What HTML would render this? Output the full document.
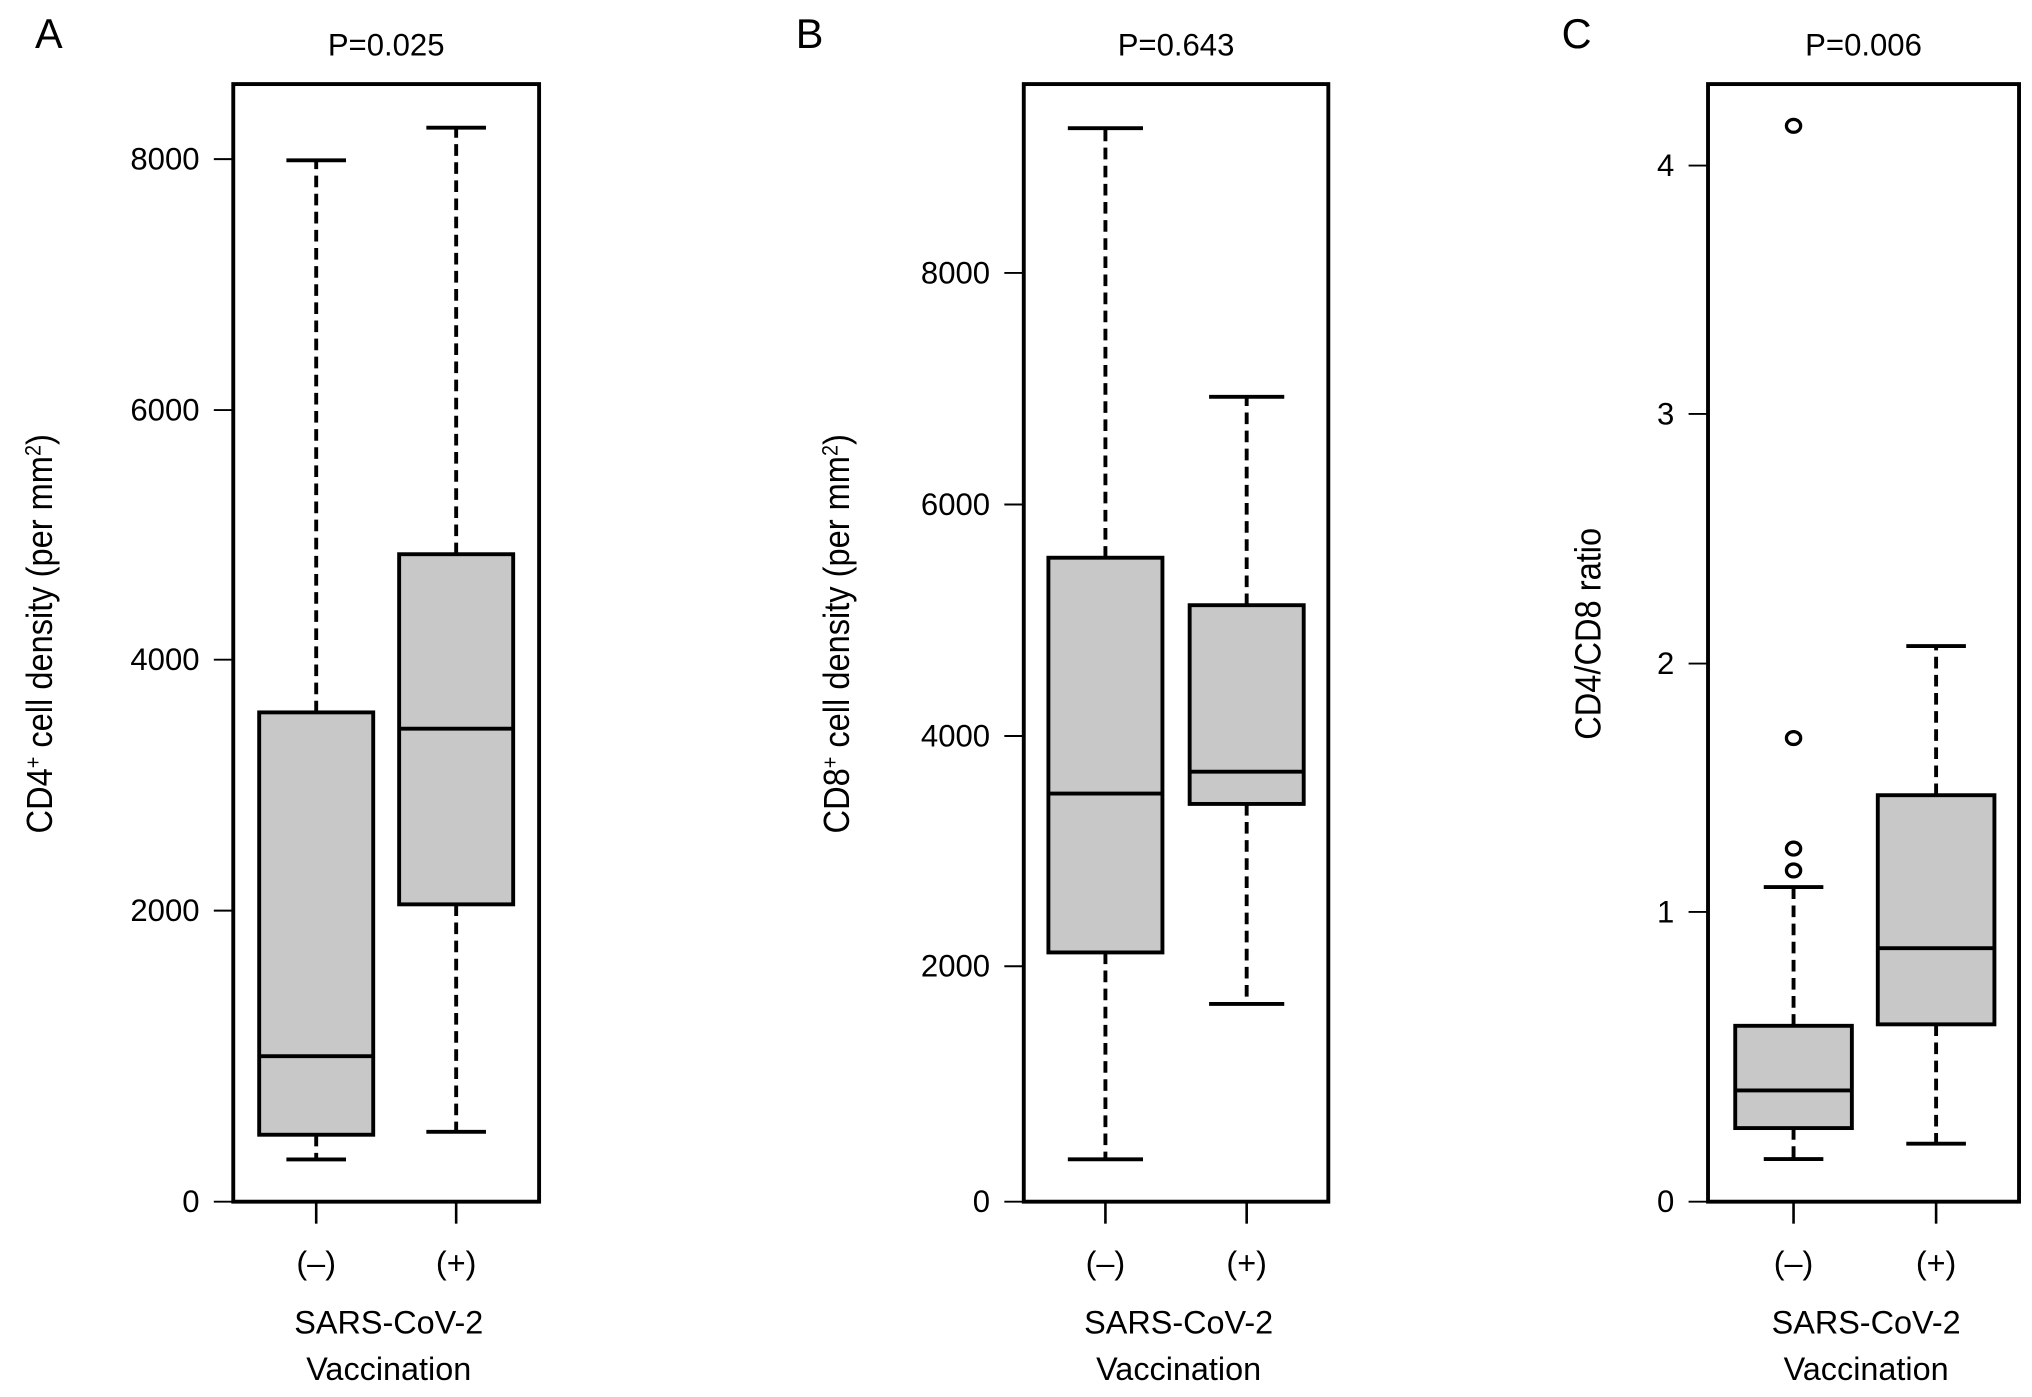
<!DOCTYPE html>
<html><head><meta charset="utf-8"><style>
html,body{margin:0;padding:0;background:#fff;}
svg{display:block;font-family:"Liberation Sans",Arial,sans-serif;}
</style></head><body>
<svg id="fig" width="2032" height="1397" viewBox="0 0 1568 1080" preserveAspectRatio="none" xmlns="http://www.w3.org/2000/svg"></svg>
<script>
// Panel A data (CD4+ density)
const groups = ["(\u2013)", "(+)"];
const aTicks = [0, 2000, 4000, 6000, 8000];
const aTickPx = [929, 704, 510, 317, 123]; // axis calibration
const aWhiskLo = [290, 480];
const aQ1 = [460, 2050];
const aMed = [1000, 3450];
const aQ3 = [3580, 4845];
const aWhiskHi = [7990, 8250];
const aOut = [[], []];
// Panel B data (CD8+ density)
const bTicks = [0, 2000, 4000, 6000, 8000];
const bTickPx = [929, 747, 569, 390, 211];
const bWhiskLo = [360, 1680];
const bQ1 = [2120, 3410];
const bMed = [3500, 3690];
const bQ3 = [5540, 5130];
const bWhiskHi = [9250, 6930];
const bOut = [[], []];
// Panel C data (CD4/CD8 ratio)
const cTicks = [0, 1, 2, 3, 4];
const cTickPx = [929, 705, 513, 320, 128];
const cWhiskLo = [0.147, 0.20];
const cQ1 = [0.254, 0.612];
const cMed = [0.384, 0.875];
const cQ3 = [0.607, 1.47];
const cWhiskHi = [1.10, 2.07];
const cOut = [[4.16, 1.70, 1.255, 1.167], []];

const NS = "http://www.w3.org/2000/svg";
const svg = document.getElementById('fig');
function mk(tag, attrs, parent, text){
  const e = document.createElementNS(NS, tag);
  for (const k in attrs) e.setAttribute(k, attrs[k]);
  if (text !== undefined) e.textContent = text;
  (parent || svg).appendChild(e);
  return e;
}
function scaleFn(ticks, px){
  return v => {
    for (let i = 0; i < ticks.length - 1; i++){
      if (v <= ticks[i+1] || i === ticks.length - 2){
        const t = (v - ticks[i]) / (ticks[i+1] - ticks[i]);
        return px[i] + t * (px[i+1] - px[i]);
      }
    }
  };
}
function panel(cfg){
  const g = mk('g', {});
  
  
  const y = scaleFn(cfg.ticks, cfg.tickPx);
  const L = cfg.left, R = cfg.right, T = 65, B = 929;
  const lab = mk('text', {x: cfg.letterX, y: 37, 'font-size': 32}, g, cfg.letter);
  
  
  const pt = mk('text', {x: (L+R)/2, y: 43, 'font-size': 24, 'text-anchor': 'middle'}, g, cfg.p);
  
  
  for (let i = 0; i < 2; i++){
    const cx = cfg.centers[i], hw = cfg.halfW, cw = cfg.capW;
    const bg = mk('g', {}, g);
    
    
    mk('line', {x1: cx, x2: cx, y1: y(cfg.q3[i]), y2: y(cfg.hi[i]), stroke: '#000', 'stroke-width': 3, 'stroke-dasharray': '9 5'}, bg);
    mk('line', {x1: cx, x2: cx, y1: y(cfg.q1[i]), y2: y(cfg.lo[i]), stroke: '#000', 'stroke-width': 3, 'stroke-dasharray': '9 5'}, bg);
    mk('line', {x1: cx-cw, x2: cx+cw, y1: y(cfg.hi[i]), y2: y(cfg.hi[i]), stroke: '#000', 'stroke-width': 3}, bg);
    mk('line', {x1: cx-cw, x2: cx+cw, y1: y(cfg.lo[i]), y2: y(cfg.lo[i]), stroke: '#000', 'stroke-width': 3}, bg);
    mk('rect', {x: cx-hw, y: y(cfg.q3[i]), width: 2*hw, height: y(cfg.q1[i]) - y(cfg.q3[i]), fill: '#c8c8c8', stroke: '#000', 'stroke-width': 3}, bg);
    mk('line', {x1: cx-hw, x2: cx+hw, y1: y(cfg.med[i]), y2: y(cfg.med[i]), stroke: '#000', 'stroke-width': 3}, bg);
    cfg.out[i].forEach(v => {
      const c = mk('ellipse', {cx: cx, cy: y(v), rx: 5.5, ry: 5, fill: 'none', stroke: '#000', 'stroke-width': 2.5}, bg);
      
      
    });
    mk('line', {x1: cx, x2: cx, y1: B, y2: B+17, stroke: '#000', 'stroke-width': 2}, g);
    const xl = mk('text', {x: cx, y: 985, 'font-size': 25, 'text-anchor': 'middle'}, g, groups[i]);
    
    
  }
  const fr = mk('rect', {x: L, y: T, width: R-L, height: B-T, fill: 'none', stroke: '#000', 'stroke-width': 3}, g);
  
  
  cfg.ticks.forEach((t, k) => {
    mk('line', {x1: L-15, x2: L, y1: y(t), y2: y(t), stroke: '#000', 'stroke-width': 1.5}, g);
    const tl = mk('text', {x: L-26, y: y(t)+8, 'font-size': 24, 'text-anchor': 'end'}, g, cfg.fmt(t));
    
    
  });
  const yt = mk('text', {transform: 'translate(' + cfg.ytX + ',490) rotate(-90) scale(0.9,1)', 'font-size': 28, 'text-anchor': 'middle'}, g);
  
  
  yt.innerHTML = cfg.ytitle;
  const x1 = mk('text', {x: (L+R)/2 + 2, y: 1031, 'font-size': 25, 'text-anchor': 'middle'}, g, 'SARS-CoV-2');
  
  
  const x2 = mk('text', {x: (L+R)/2 + 2, y: 1067, 'font-size': 25, 'text-anchor': 'middle'}, g, 'Vaccination');
  
  
}
panel({letter:'A', letterX:27, p:'P=0.025', left:180, right:416, centers:[244,352], halfW:44, capW:23,
  ticks:aTicks, tickPx:aTickPx, lo:aWhiskLo, q1:aQ1, med:aMed, q3:aQ3, hi:aWhiskHi, out:aOut, fmt:String, ytX:40,
  ytitle:'CD4<tspan baseline-shift="super" font-size="17">+</tspan> cell density (per mm<tspan baseline-shift="super" font-size="17">2</tspan>)'});
panel({letter:'B', letterX:614, p:'P=0.643', left:790, right:1025, centers:[853,962], halfW:44, capW:29,
  ticks:bTicks, tickPx:bTickPx, lo:bWhiskLo, q1:bQ1, med:bMed, q3:bQ3, hi:bWhiskHi, out:bOut, fmt:String, ytX:655,
  ytitle:'CD8<tspan baseline-shift="super" font-size="17">+</tspan> cell density (per mm<tspan baseline-shift="super" font-size="17">2</tspan>)'});
panel({letter:'C', letterX:1205, p:'P=0.006', left:1318, right:1558, centers:[1384,1494], halfW:45, capW:23,
  ticks:cTicks, tickPx:cTickPx, lo:cWhiskLo, q1:cQ1, med:cMed, q3:cQ3, hi:cWhiskHi, out:cOut, fmt:String, ytX:1235,
  ytitle:'CD4/CD8 ratio'});
</script>
</body></html>
